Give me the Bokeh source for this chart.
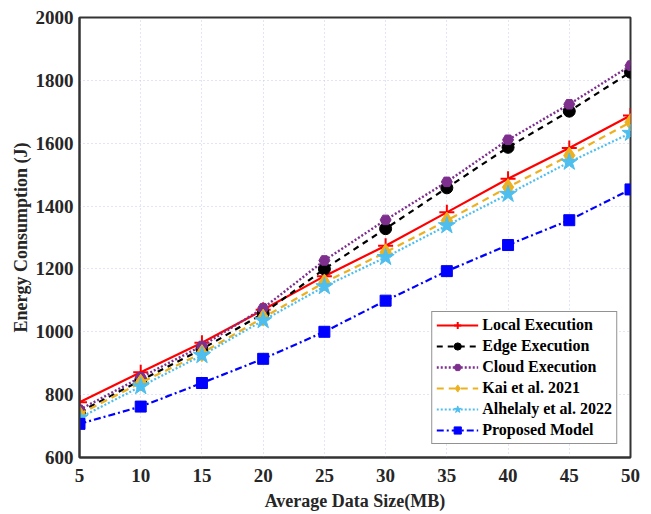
from bokeh.plotting import figure
from bokeh.models import Legend, LegendItem, FixedTicker, Range1d
from bokeh.embed import file_html
from bokeh.resources import INLINE

x = [5, 10, 15, 20, 25, 30, 35, 40, 45, 50]
local_exec = [776, 871, 965, 1070, 1177, 1274, 1380, 1487, 1585, 1688]
edge_exec = [745, 845, 945, 1058, 1200, 1328, 1458, 1587, 1702, 1826]
cloud_exec = [752, 855, 955, 1075, 1227, 1356, 1477, 1611, 1724, 1847]
kai_2021 = [738, 838, 932, 1045, 1157, 1253, 1354, 1460, 1561, 1667]
alhelaly_2022 = [726, 826, 925, 1036, 1144, 1237, 1338, 1438, 1540, 1632]
proposed = [707, 762, 837, 914, 1000, 1099, 1193, 1276, 1355, 1453]

x_ticks = [5, 10, 15, 20, 25, 30, 35, 40, 45, 50]
y_ticks = [600, 800, 1000, 1200, 1400, 1600, 1800, 2000]

FONT = "Liberation Serif"

p = figure(width=643, height=514, output_backend="svg", toolbar_location=None,
           x_range=Range1d(5, 50), y_range=Range1d(600, 2000),
           min_border_left=79, min_border_right=13, min_border_top=17, min_border_bottom=57)

p.outline_line_color = "#333333"
p.outline_line_width = 2
p.outline_line_alpha = 1

for ax in (p.xaxis, p.yaxis):
    ax.axis_line_color = "#333333"
    ax.axis_line_width = 2
    ax.major_tick_in = 0
    ax.major_tick_out = 0
    ax.minor_tick_line_color = None
    ax.major_label_text_font = FONT
    ax.major_label_text_font_style = "bold"
    ax.major_label_text_font_size = "19px"
    ax.major_label_text_color = "#262626"
    ax.axis_label_text_font = FONT
    ax.axis_label_text_font_style = "bold"
    ax.axis_label_text_font_size = "18px"
    ax.axis_label_text_color = "#262626"

p.xaxis.ticker = FixedTicker(ticks=x_ticks)
p.yaxis.ticker = FixedTicker(ticks=y_ticks)
p.xaxis.axis_label = "Average Data Size(MB)"
p.yaxis.axis_label = "Energy Consumption (J)"
p.xaxis.major_label_standoff = 11
p.yaxis.major_label_standoff = 6
p.xaxis.axis_label_standoff = 6
p.yaxis.axis_label_standoff = 2

for g in (p.xgrid, p.ygrid):
    g.grid_line_color = "#c8c8f0"
    g.grid_line_dash = "1 3"
    g.grid_line_width = 1

series = [
    ("Local Execution", local_exec, "#ff0000", "solid", "cross", 15, 2.2),
    ("Edge Execution", edge_exec, "#000000", "6 5", "circle", 12, 2.2),
    ("Cloud Execution", cloud_exec, "#7e2f8e", "2 2", "hex", 11, 2.4),
    ("Kai et al. 2021", kai_2021, "#edb120", "7 5", "diamond", 17, 2.2),
    ("Alhelaly et al. 2022", alhelaly_2022, "#4dbeee", "2 2", "star", 18, 2.2),
    ("Proposed Model", proposed, "#0000ff", "7 3 2 3", "square", 11, 2.2),
]

items = []
for name, ys, col, dash, marker, size, lw in series:
    r1 = p.line(x, ys, line_color=col, line_width=lw, line_dash=dash)
    if marker == "cross":
        r2 = p.scatter(x, ys, marker=marker, size=size, line_color=col, line_width=2)
    else:
        r2 = p.scatter(x, ys, marker=marker, size=size, fill_color=col, line_color=col)
    items.append(LegendItem(label=name, renderers=[r1, r2]))

legend = Legend(items=items, location="bottom_right")
legend.label_text_font = FONT
legend.label_text_font_style = "bold"
legend.label_text_font_size = "16px"
legend.label_text_color = "#000000"
legend.border_line_color = "#262626"
legend.border_line_width = 1.5
legend.glyph_width = 42
legend.glyph_height = 18
legend.label_height = 18
legend.spacing = 3
legend.padding = 4
legend.margin = 13
legend.label_standoff = 4
legend.background_fill_alpha = 1
p.add_layout(legend)

open("out.html", "w").write(file_html(p, INLINE))
